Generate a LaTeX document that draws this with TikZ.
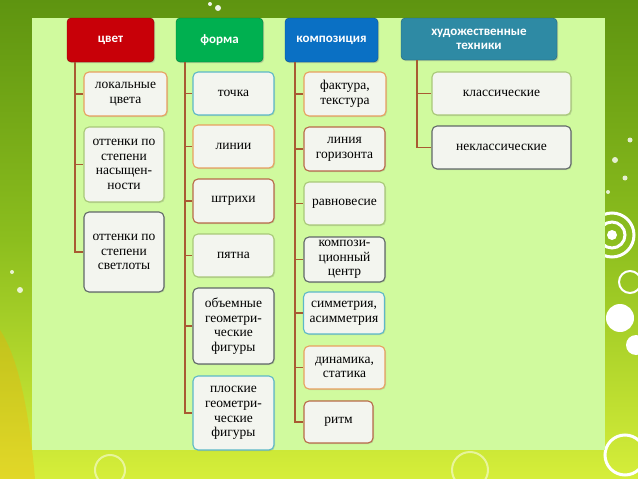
\documentclass[tikz,border=0pt]{standalone}
\usepackage{fontspec}
\setmainfont{Liberation Serif}
\newfontfamily\boxfont{Liberation Serif}
\newfontfamily\hdrfont{Carlito}
\usetikzlibrary{shadows}
\definecolor{bgtop}{HTML}{5E9410}
\definecolor{bgmid}{HTML}{8CBE1E}
\definecolor{bgbot}{HTML}{D6EE3A}
\definecolor{panel}{HTML}{D0FA9E}
\definecolor{boxfill}{HTML}{F3F5EF}
\definecolor{conncol}{HTML}{A85A32}
\definecolor{bOrange}{HTML}{E8A060}
\definecolor{bBrown}{HTML}{B86A48}
\definecolor{bGreen}{HTML}{A8C878}
\definecolor{bGray}{HTML}{606868}
\definecolor{bTeal}{HTML}{5CB8C8}
\definecolor{hRed}{HTML}{C80008}
\definecolor{hGreen}{HTML}{00B050}
\definecolor{hBlue}{HTML}{0A70C4}
\definecolor{hTeal}{HTML}{2E8AA4}
\tikzset{
  childbox/.style={draw, fill=boxfill, rounded corners=5pt, line width=1.1pt,
    align=center, inner sep=1pt, font=\boxfont\fontsize{13.5}{14.7}\selectfont,
    drop shadow={shadow xshift=1pt, shadow yshift=-1pt, opacity=0.25}},
  headbox/.style={rounded corners=4pt, align=center, inner sep=1pt,
    text=white, font=\hdrfont\bfseries\fontsize{13}{14}\selectfont,
    drop shadow={shadow xshift=1.2pt, shadow yshift=-1.2pt, opacity=0.35}},
  conn/.style={draw=conncol, line width=1.8pt},
}
\begin{document}
\begin{tikzpicture}[x=1pt,y=-1pt]
\useasboundingbox (0,0) rectangle (638,479);
% background
\shade[top color=bgtop, bottom color=bgbot, middle color=bgmid] (0,0) rectangle (638,479);
\fill[orange!70!yellow, opacity=0.3] (0,330) .. controls (20,360) and (30,420) .. (35,479) -- (0,479) -- cycle;
% decorative circles right
\draw[white, line width=3pt] (612,235) circle (22);
\draw[white, line width=3pt] (612,235) circle (13);
\fill[white] (612,235) circle (5);
\draw[white, line width=2pt] (630,282) circle (11);
\fill[white] (620,318) circle (14);
\fill[white] (636,345) circle (10);
\draw[white, line width=3pt] (625,455) circle (20);
\fill[white, opacity=0.8] (615,160) circle (3);
\fill[white, opacity=0.8] (625,178) circle (2.5);
\fill[white, opacity=0.8] (608,192) circle (2);
\fill[white, opacity=0.8] (630,140) circle (2.5);
\fill[white, opacity=0.9] (218,8) circle (3);
\fill[white, opacity=0.9] (210,4) circle (2);
\fill[white, opacity=0.8] (20,290) circle (3);
\fill[white, opacity=0.8] (12,272) circle (2);
\draw[white, opacity=0.5, line width=2pt] (470,470) circle (18);
\draw[white, opacity=0.5, line width=2pt] (110,470) circle (15);
% panel
\fill[panel] (32,18) rectangle (605,450);

% headers
\node[headbox, fill=hRed, draw=hRed!70!black, minimum width=87, minimum height=44] (h1) at (110.5,40) {цвет};
\node[headbox, fill=hGreen, draw=hGreen!70!black, minimum width=87, minimum height=44] (h2) at (219.5,40) {форма};
\node[headbox, fill=hBlue, draw=hBlue!70!black, minimum width=93, minimum height=44] (h3) at (331.5,40) {композиция};
\node[headbox, fill=hTeal, draw=hTeal!70!black, minimum width=156, minimum height=42] (h4) at (479,39) {художественные\\техники};

% children: цвет
\node[childbox, draw=bOrange, minimum width=83, minimum height=44] (c11) at (125.5,94) {локальные\\цвета};
\node[childbox, draw=bGreen, minimum width=80, minimum height=75] (c12) at (124,164.5) {оттенки по\\степени\\насыщен-\\ности};
\node[childbox, draw=bGray, minimum width=80, minimum height=80] (c13) at (124,252) {оттенки по\\степени\\светлоты};
% children: форма
\node[childbox, draw=bTeal, minimum width=81, minimum height=43] (c21) at (233.5,93.5) {точка};
\node[childbox, draw=bOrange, minimum width=81, minimum height=43] (c22) at (233.5,146.5) {линии};
\node[childbox, draw=bBrown, minimum width=81, minimum height=44] (c23) at (233.5,201) {штрихи};
\node[childbox, draw=bGreen, minimum width=81, minimum height=43] (c24) at (233.5,255.5) {пятна};
\node[childbox, draw=bGray, minimum width=81, minimum height=76] (c25) at (233.5,326) {объемные\\геометри-\\ческие\\фигуры};
\node[childbox, draw=bTeal, minimum width=81, minimum height=74] (c26) at (233.5,413) {плоские\\геометри-\\ческие\\фигуры};
% children: композиция
\node[childbox, draw=bOrange, minimum width=82, minimum height=44] (c31) at (345,94) {фактура,\\текстура};
\node[childbox, draw=bBrown, minimum width=81, minimum height=44] (c32) at (344.5,149) {линия\\горизонта};
\node[childbox, draw=bGreen, minimum width=81, minimum height=43] (c33) at (344.5,203.5) {равновесие};
\node[childbox, draw=bGray, minimum width=81, minimum height=45] (c34) at (344.5,259.5) {компози-\\ционный\\центр};
\node[childbox, draw=bTeal, minimum width=81, minimum height=42] (c35) at (344,313) {симметрия,\\асимметрия};
\node[childbox, draw=bOrange, minimum width=81, minimum height=43] (c36) at (344.5,367.5) {динамика,\\статика};
\node[childbox, draw=bBrown, minimum width=69, minimum height=42] (c37) at (338.5,422) {ритм};
% children: техники
\node[childbox, draw=bGreen, minimum width=139, minimum height=43] (c41) at (501.5,93.5) {классические};
\node[childbox, draw=bGray, minimum width=139, minimum height=43] (c42) at (501.5,147.5) {неклассические};

% connectors
\coordinate (v1) at (75,62);
\coordinate (v2) at (185,62);
\coordinate (v3) at (295,62);
\coordinate (v4) at (417,60);
\foreach \c in {c11,c12,c13} \draw[conn] (v1) |- (\c.west);
\foreach \c in {c21,c22,c23,c24,c25,c26} \draw[conn] (v2) |- (\c.west);
\foreach \c in {c31,c32,c33,c34,c35,c36,c37} \draw[conn] (v3) |- (\c.west);
\foreach \c in {c41,c42} \draw[conn] (v4) |- (\c.west);
\end{tikzpicture}
\end{document}
